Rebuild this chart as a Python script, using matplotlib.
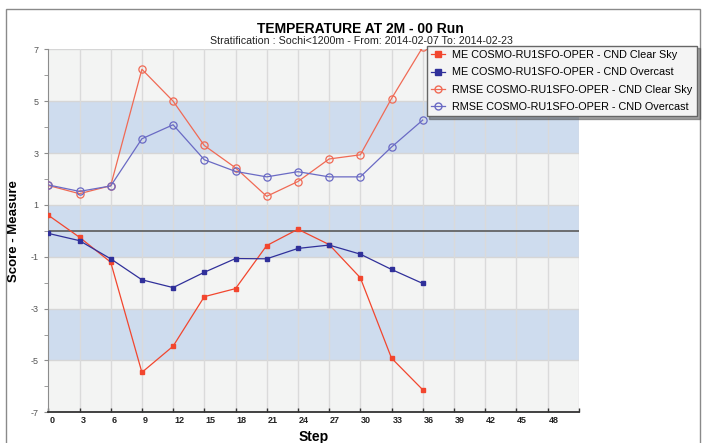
import matplotlib
matplotlib.use("Agg")
import matplotlib.pyplot as plt
import matplotlib.transforms as mtrans
from matplotlib.lines import Line2D
from matplotlib.patches import Rectangle

steps = [0, 3, 6, 9, 12, 15, 18, 21, 24, 27, 30, 33, 36]
me_clear = [0.60, -0.25, -1.21, -5.46, -4.45, -2.54, -2.23, -0.57, 0.06, -0.53, -1.81, -4.91, -6.13]
me_over = [-0.10, -0.38, -1.08, -1.89, -2.19, -1.60, -1.07, -1.08, -0.68, -0.55, -0.90, -1.49, -2.03]
rmse_clear = [1.75, 1.43, 1.74, 6.23, 5.00, 3.29, 2.43, 1.33, 1.90, 2.77, 2.93, 5.10, 7.08]
rmse_over = [1.77, 1.52, 1.73, 3.55, 4.09, 2.74, 2.29, 2.08, 2.28, 2.08, 2.08, 3.23, 4.27]

labels = ["ME COSMO-RU1SFO-OPER - CND Clear Sky",
          "ME COSMO-RU1SFO-OPER - CND Overcast",
          "RMSE COSMO-RU1SFO-OPER - CND Clear Sky",
          "RMSE COSMO-RU1SFO-OPER - CND Overcast"]
xticks = list(range(0, 52, 3))
xticklabels = [str(t) if t <= 48 else "" for t in xticks]
yticks_major = [7, 5, 3, 1, -1, -3, -5, -7]
yticks_minor = [6, 4, 2, 0, -2, -4, -6]
bands = [(3, 5), (-1, 1), (-5, -3)]

plt.rcParams['font.family'] = ['Liberation Sans', 'DejaVu Sans']

W, H = 702, 443
fig = plt.figure(figsize=(W / 100, H / 100), dpi=100)
fig.patch.set_facecolor('white')

# outer frame
fig.add_artist(Rectangle((6 / W, -0.05), (700 - 6) / W, (H - 9) / H + 0.05,
                         transform=fig.transFigure, fill=False,
                         edgecolor='#8a8a8a', linewidth=1.0))

ax = fig.add_axes([48.3 / W, 30.7 / H, (578.7 - 48.3) / W, (412.3 - 49.3) / H])
ax.set_facecolor('#f3f4f3')
ax.set_xlim(0, 51)
ax.set_ylim(-7, 7)

for lo, hi in bands:
    ax.axhspan(lo, hi, color='#cedcee', zorder=0, linewidth=0)
for v in [5, 3, 1, -1, -3, -5, 7]:
    ax.axhline(v, color='#d6d6d6', linewidth=1.0, zorder=0.5)
for t in xticks[1:]:
    ax.axvline(t, color='#dadada', linewidth=1.0, zorder=0.5)
ax.axhline(0, color='#5a5a5a', linewidth=1.2, zorder=1)

red = '#f2462e'
red2 = '#f06a55'
blue = '#30309a'
blue2 = '#6a6ac4'

ax.plot(steps, me_clear, color=red, lw=0.9, marker='s', ms=3, mfc=red, mec=red, zorder=3)
ax.plot(steps, me_over, color=blue, lw=0.9, marker='s', ms=3, mfc=blue, mec=blue, zorder=3)
ax.plot(steps, rmse_clear, color=red2, lw=0.9, marker='o', ms=5.2, mfc='none', mec=red2, mew=0.9, zorder=3)
ax.plot(steps, rmse_over, color=blue2, lw=0.9, marker='o', ms=5.2, mfc='none', mec=blue2, mew=0.9, zorder=3)

for s in ['top', 'right']:
    ax.spines[s].set_visible(False)
ax.spines['left'].set_color('#8c8c8c')
ax.spines['bottom'].set_color('#333333')
ax.spines['bottom'].set_linewidth(1.3)

ax.set_xticks(xticks)
ax.set_xticklabels(xticklabels, fontsize=6.5, fontweight='bold', color='#222222')
ax.tick_params(axis='x', direction='in', length=3, width=1, color='#333333', pad=3)
offset = mtrans.ScaledTranslation(1 / 100, 0, fig.dpi_scale_trans)
for lab in ax.get_xticklabels():
    lab.set_horizontalalignment('left')
    lab.set_transform(lab.get_transform() + offset)

ax.set_yticks(yticks_major)
ax.set_yticklabels([str(v) for v in yticks_major], fontsize=6.5, color='#555555')
ax.set_yticks(yticks_minor, minor=True)
ax.tick_params(axis='y', which='major', length=3, color='#8c8c8c', pad=4)
ax.tick_params(axis='y', which='minor', length=3, color='#8c8c8c')

fig.text(313.5 / W, 1 - 436.5 / H, 'Step', fontsize=10, fontweight='bold',
         ha='center', va='center')
fig.text(14 / W, 1 - 231 / H, 'Score - Measure', rotation=90, fontsize=9.5,
         fontweight='bold', ha='center', va='center')

fig.text(360 / W, 1 - 29 / H, 'TEMPERATURE AT 2M - 00 Run', fontsize=10,
         fontweight='bold', ha='center', va='center')
fig.text(361 / W, 1 - 41 / H, 'Stratification : Sochi<1200m - From: 2014-02-07 To: 2014-02-23',
         fontsize=7.7, ha='center', va='center', color='#222222')

handles = [
    Line2D([], [], color=red, lw=0.9, marker='s', ms=5, mfc=red, mec=red),
    Line2D([], [], color=blue, lw=0.9, marker='s', ms=5, mfc=blue, mec=blue),
    Line2D([], [], color=red2, lw=0.9, marker='o', ms=5, mfc='none', mec=red2),
    Line2D([], [], color=blue2, lw=0.9, marker='o', ms=5, mfc='none', mec=blue2),
]
leg = fig.legend(handles, labels, loc='upper left',
                 bbox_to_anchor=(426.7 / W, 1 - 45.7 / H), bbox_transform=fig.transFigure,
                 fontsize=7.8, frameon=True, fancybox=False, shadow=True,
                 borderpad=0.4, labelspacing=0.68, handlelength=1.3, handletextpad=0.65,
                 borderaxespad=0)
leg.get_frame().set_facecolor('#f4f4f4')
leg.get_frame().set_edgecolor('#666666')
leg.get_frame().set_linewidth(1.0)
leg.set_zorder(10)

fig.savefig('out.png', dpi=100)
